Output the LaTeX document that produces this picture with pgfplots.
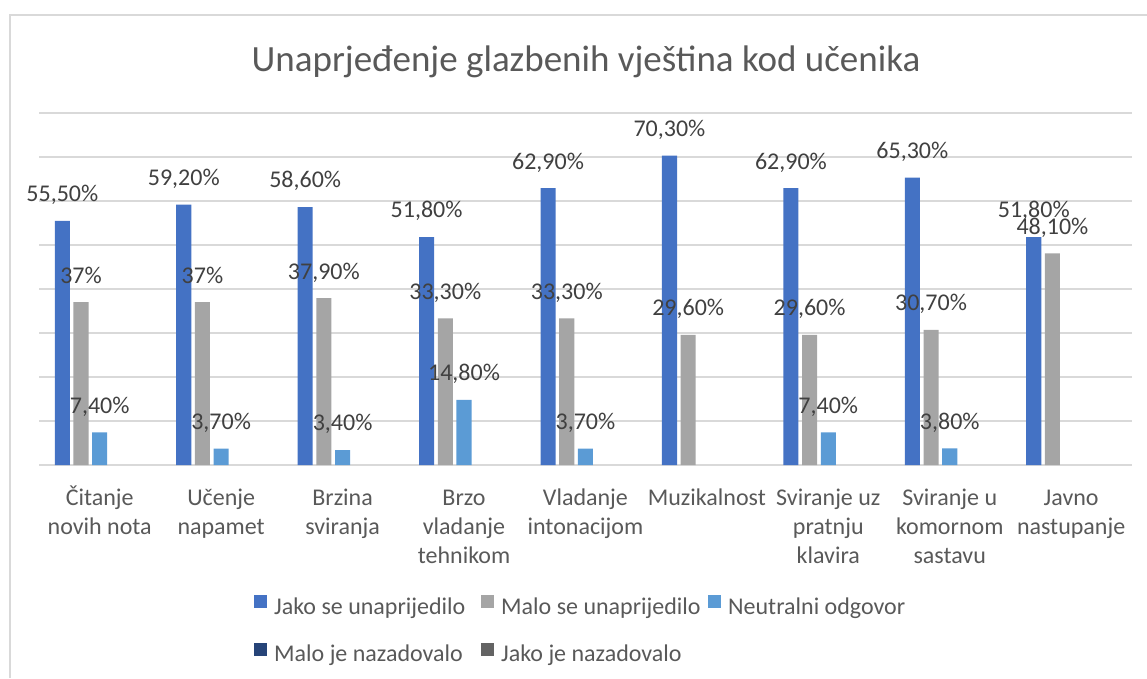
\documentclass[border=0pt]{standalone}
\usepackage{pgfplots}
\pgfplotsset{compat=1.18}
\usepackage{pgfplotstable}
\usepackage{fontspec}
\setmainfont{Carlito}
\definecolor{c1}{HTML}{4472C4}
\definecolor{c2}{HTML}{A5A5A5}
\definecolor{c3}{HTML}{5B9BD5}
\definecolor{c4}{HTML}{264478}
\definecolor{c5}{HTML}{636363}
\definecolor{txt}{HTML}{595959}
\definecolor{lab}{HTML}{404040}
\definecolor{gridc}{HTML}{D9D9D9}
\pgfplotstableread{
x y lab
0 55.5 55,50
1 59.2 59,20
2 58.6 58,60
3 51.8 51,80
4 62.9 62,90
5 70.3 70,30
6 62.9 62,90
7 65.3 65,30
8 51.8 51,80
}\tjako
\pgfplotstableread{
x y lab
0 37 37
1 37 37
2 37.9 37,90
3 33.3 33,30
4 33.3 33,30
5 29.6 29,60
6 29.6 29,60
7 30.7 30,70
8 48.1 48,10
}\tmalo
\pgfplotstableread{
x y lab
0 7.4 7,40
1 3.7 3,70
2 3.4 3,40
3 14.8 14,80
4 3.7 3,70
6 7.4 7,40
7 3.8 3,80
}\tneut
\newcommand{\fs}{\fontsize{24}{29}\selectfont}
\pgfplotsset{sq/.style={legend image code/.code={\fill[##1] (0pt,-1.5pt) rectangle (13pt,11.5pt);}}}
\begin{document}
\begin{tikzpicture}
\path[use as bounding box] (0,0) rectangle (1147pt,678pt);
\draw[gridc, line width=2pt] (10pt,0) -- (10pt,663pt) -- (1147pt,663pt);
\node[anchor=base, text=txt, font=\fontsize{37}{44}\selectfont, inner sep=0pt] at (586pt,606pt) {Unaprjeđenje glazbenih vještina kod učenika};
\begin{axis}[
  at={(39pt,213pt)}, anchor=south west,
  width=1093pt, height=352pt, scale only axis,
  xmin=-0.5, xmax=8.5, ymin=0, ymax=80,
  ytick={0,10,...,80}, yticklabels={},
  ymajorgrids, grid style={gridc, line width=1.2pt},
  axis line style={draw=none}, major tick length=0pt, tick style={draw=none},
  xtick={0,...,8},
  xticklabels={{\strut Čitanje\\novih nota},{\strut Učenje\\napamet},{\strut Brzina\\sviranja},{\strut Brzo\\vladanje\\tehnikom},{\strut Vladanje\\intonacijom},{\strut Muzikalnost},{\strut Sviranje uz\\pratnju\\klavira},{\strut Sviranje u\\komornom\\sastavu},{\strut Javno\\nastupanje}},
  xticklabel style={font=\fs, text=txt, align=center, inner sep=0pt, anchor=north, yshift=-19.7pt},
  ybar, bar width=0.124,
  point meta=explicit symbolic,
  nodes near coords={\pgfplotspointmeta\%},
  every node near coord/.append style={font=\fs, text=lab, inner sep=0pt, text depth=0pt, anchor=south, yshift=19pt},
  legend columns=3,
  legend cell align=left,
  legend style={at={(axis description cs:0.1967,-0.3693)}, anchor=north west, draw=none, fill=none, font=\fs, text=txt, inner sep=0pt, nodes={inner sep=0pt}, /tikz/row sep=27pt, /tikz/every odd column/.append style={column sep=7pt}, /tikz/every even column/.append style={column sep=7pt}},
]
\addplot[sq, fill=c1, draw=none, bar shift=-0.308] table[x=x, y=y, meta=lab] {\tjako};
\addlegendentry{\makebox[200pt][l]{Jako se unaprijedilo}}
\addplot[sq, fill=c2, draw=none, bar shift=-0.154] table[x=x, y=y, meta=lab] {\tmalo};
\addlegendentry{\makebox[200pt][l]{Malo se unaprijedilo}}
\addplot[sq, fill=c3, draw=none, bar shift=0] table[x=x, y=y, meta=lab] {\tneut};
\addlegendentry{Neutralni odgovor}
\addlegendimage{sq, fill=c4, draw=none}
\addlegendentry{\makebox[200pt][l]{Malo je nazadovalo}}
\addlegendimage{sq, fill=c5, draw=none}
\addlegendentry{\makebox[200pt][l]{Jako je nazadovalo}}
\end{axis}
\end{tikzpicture}
\end{document}
